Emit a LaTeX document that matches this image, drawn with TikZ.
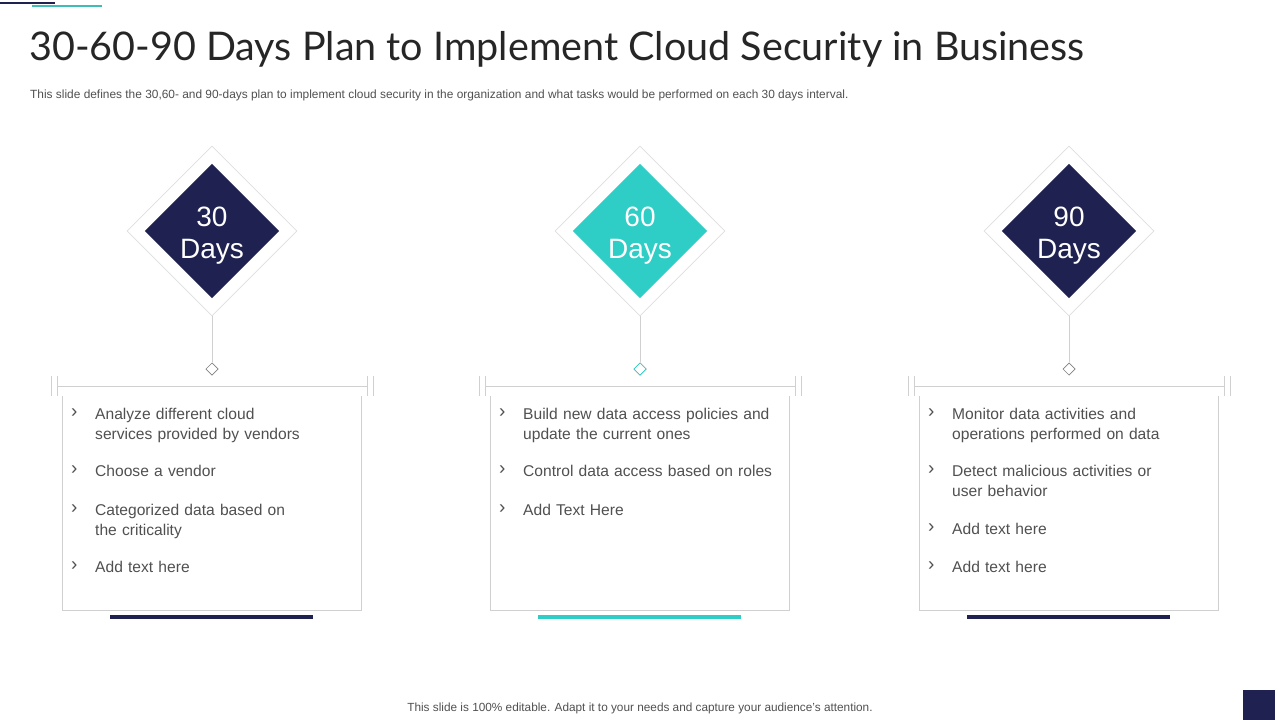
\documentclass[tikz,border=0pt]{standalone}
\usepackage{fontspec}
\setmainfont{Liberation Sans}
\newfontfamily\titlefont{Lato}
\definecolor{navy}{HTML}{1F2151}
\definecolor{teal}{HTML}{2ECDC6}
\definecolor{txt}{HTML}{505050}
\definecolor{lgrey}{HTML}{D0D0D0}
\tikzset{
  outerdia/.style={draw=lgrey!70, fill=white, line width=0.8pt, minimum width=120pt, minimum height=120pt, shape=rectangle, rotate=45, inner sep=0pt},
  bigdia/.style={minimum width=95pt, minimum height=95pt, rotate=45, inner sep=0pt},
  smalldia/.style={draw=gray, fill=white, line width=0.7pt, minimum width=8.5pt, minimum height=8.5pt, rotate=45, inner sep=0pt},
  item/.style={anchor=north west, text width=260pt, align=left, text=txt, font=\fontsize{15.6}{19.5}\selectfont, inner sep=0pt},
  bul/.style={anchor=north west, text=txt, font=\fontsize{19}{20}\selectfont, inner sep=0pt},
  thin/.style={draw=lgrey, line width=0.8pt}
}
\begin{document}
\begin{tikzpicture}[x=1pt,y=-1pt]
\useasboundingbox (0,0) rectangle (1280,720);
\fill[navy] (0,2) rectangle (55,4);
\fill[teal!80!gray] (32,5) rectangle (102,7);
\node[anchor=west, inner sep=0pt, text=black!85, font=\titlefont\fontsize{39.5}{44}\selectfont] (title) at (29,49) {30-60-90 Days Plan to Implement Cloud Security in Business};
\node[anchor=west, inner sep=0pt, text=txt, font=\fontsize{11.9}{13}\selectfont] (sub) at (30,95) {This slide defines the 30,60- and 90-days plan to implement cloud security in the organization and what tasks would be performed on each 30 days interval.};
\node[inner sep=0pt, text=txt, font=\fontsize{11.8}{13}\selectfont] (foot) at (640,708) {This slide is 100\% editable. Adapt it to your needs and capture your audience's attention.};
\fill[navy] (1243,690) rectangle (1275,720);

\foreach \cx/\col/\num/\nm in {212/navy/30/a, 640/teal/60/b, 1069/navy/90/c}{
  \node[outerdia] (o\nm) at (\cx,231) {};
  \node[bigdia, fill=\col] (d\nm) at (\cx,231) {};
  \node[align=center, text=white, font=\fontsize{28}{32}\selectfont] (t\nm) at (\cx,236) {\num\\Days};
  \node[smalldia] (s\nm) at (\cx,369) {};
  \draw[thin] (o\nm.south west) -- (s\nm.north east);
  \draw[thin] (\cx-155,386) -- (\cx+155,386);
  \draw[thin] (\cx-161,376) -- (\cx-161,396);
  \draw[thin] (\cx-155,376) -- (\cx-155,396);
  \draw[thin] (\cx+155,376) -- (\cx+155,396);
  \draw[thin] (\cx+161,376) -- (\cx+161,396);
  \draw[thin] (\cx-150,396) -- (\cx-150,610) -- (\cx+149,610) -- (\cx+149,396);
  \fill[\col] (\cx-102,615) rectangle (\cx+101,619);
}
\draw[draw=teal, line width=0.7pt, fill=white] (640,363) -- (646,369) -- (640,375) -- (634,369) -- cycle;

\foreach \cx/\y/\t [count=\i] in {
 212/408/{Analyze different cloud\\services provided by vendors},
 212/465/{Choose a vendor},
 212/504/{Categorized data based on\\the criticality},
 212/561/{Add text here},
 640/408/{Build new data access policies and\\update the current ones},
 640/465/{Control data access based on roles},
 640/504/{Add Text Here},
 1069/408/{Monitor data activities and\\operations performed on data},
 1069/465/{Detect malicious activities or\\user behavior},
 1069/523/{Add text here},
 1069/561/{Add text here}}{
  \node[bul] (b\i) at (\cx-141,\y+1) {›};
  \node[item] (i\i) at (\cx-117,\y) {\t};
}
\end{tikzpicture}
\end{document}
